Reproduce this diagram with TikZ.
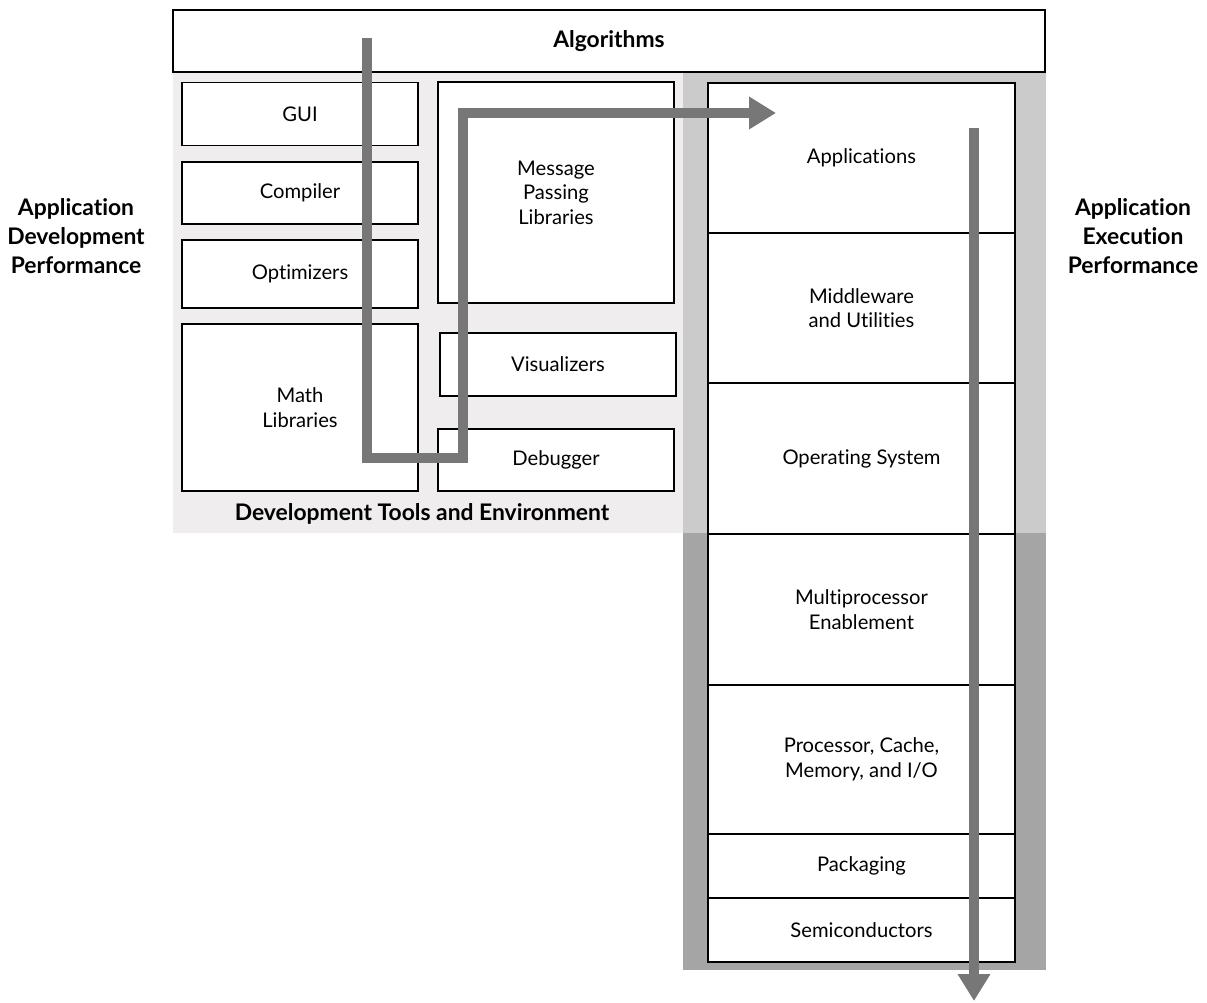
\documentclass[tikz,border=0pt]{standalone}
\usepackage{fontspec}
\setmainfont{Lato}[RawFeature=-liga]
\usepackage{xcolor,tikz}
\usetikzlibrary{arrows.meta}
\definecolor{devgray}{HTML}{EFEDED}
\definecolor{runtop}{HTML}{CBCBCB}
\definecolor{runlow}{HTML}{A5A5A5}
\definecolor{flowgray}{HTML}{777777}
\begin{document}
\begin{tikzpicture}[x=0.02cm,y=-0.02cm,every node/.style={font=\fontsize{11.5}{14}\selectfont,align=center},box/.style={draw=black,line width=0.8pt,fill=white,inner sep=0pt,minimum width=4.72cm},layer/.style={box,minimum width=6.14cm},lbl/.style={font=\fontsize{13}{16.5}\selectfont\bfseries},arr/.style={-{Triangle[length=5.4mm,width=6.2mm]},line width=5.7pt,draw=flowgray}]
\useasboundingbox (0,0) rectangle (1207,1003);
\fill[devgray] (173,72) rectangle (683,533);
\fill[runtop] (683,72) rectangle (1046,533);
\fill[runlow] (683,533) rectangle (1046,970);
\node[box,lbl,minimum width=17.44cm,minimum height=1.24cm] (algo) at (609,41) {Algorithms};
\node[box,minimum height=1.26cm] (gui) at (300,114) {GUI};
\node[box,minimum height=1.24cm] (compiler) at (300,193) {Compiler};
\node[box,minimum height=1.36cm] (optim) at (300,274) {Optimizers};
\node[box,minimum height=3.34cm] (mathlib) at (300,407.5) {Math\\Libraries};
\node[box,minimum height=4.42cm] (msgpass) at (556,192.5) {Message\\Passing\\Libraries};
\node[box,minimum height=1.26cm] (visual) at (558,364.5) {Visualizers};
\node[box,minimum height=1.24cm] (debug) at (556,460) {Debugger};
\node[lbl] (devtools) at (422,514) {Development Tools and Environment};
\node[layer,minimum height=3cm] (apps) at (861.5,158) {Applications};
\node[layer,minimum height=3cm] (middle) at (861.5,308) {Middleware\\and Utilities};
\node[layer,minimum height=3.02cm] (os) at (861.5,458.5) {Operating System};
\node[layer,minimum height=3.02cm] (multi) at (861.5,609.5) {Multiprocessor\\Enablement};
\node[layer,minimum height=2.98cm] (proc) at (861.5,759.5) {Processor, Cache,\\Memory, and I/O};
\node[layer,minimum height=1.28cm] (pack) at (861.5,866) {Packaging};
\node[layer,minimum height=1.28cm] (semi) at (861.5,930) {Semiconductors};
\node[lbl] (devperf) at (76,236) {Application\\Development\\Performance};
\node[lbl] (runperf) at (1133,236) {Application\\Execution\\Performance};
\coordinate (devtop) at (367,38);
\coordinate (devbot) at (367,458);
\coordinate (turnbot) at (463,458);
\coordinate (turntop) at (463,113);
\coordinate (apptip) at (776,113);
\coordinate (runtopend) at (974,128);
\coordinate (runtip) at (974,1001);
\draw[arr] (devtop) -- (devbot) -- (turnbot) -- (turntop) -- (apptip);
\draw[arr] (runtopend) -- (runtip);
\end{tikzpicture}
\end{document}
